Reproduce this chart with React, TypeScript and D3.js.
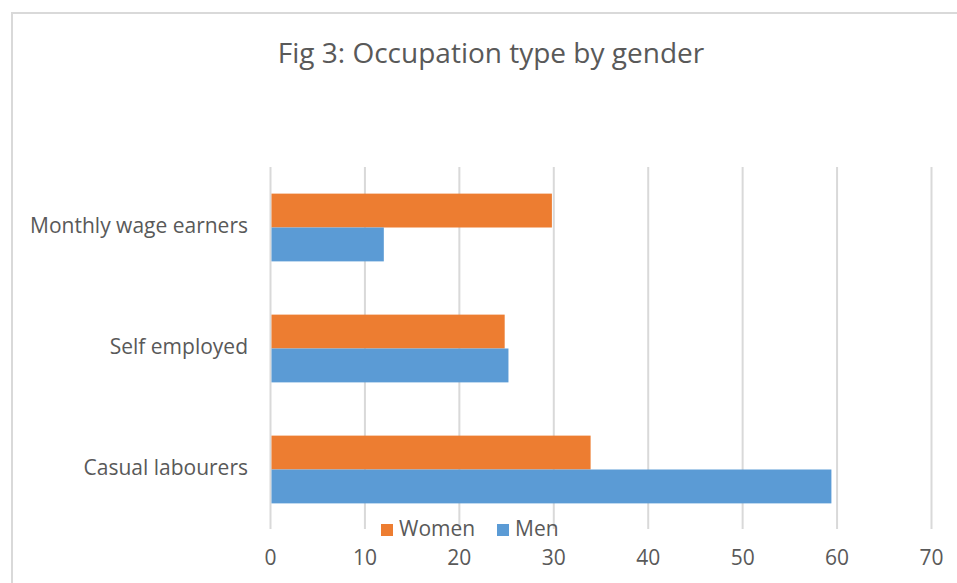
import React from "react";
import * as d3 from "d3";

const categories = ["Monthly wage earners", "Self employed", "Casual labourers"];
const seriesNames = ["Women", "Men"];
const women = [29.8, 24.8, 33.9];
const men = [12.0, 25.2, 59.4];
const ticks = [0, 10, 20, 30, 40, 50, 60, 70];
const colors = ["#ED7D31", "#5B9BD5"];

const W = 957;
const H = 583;
const FONT = "'Open Sans', 'Noto Sans', sans-serif";

export default function App() {
  const x = d3.scaleLinear().domain([0, 70]).range([270.5, 931.5]);
  const y = d3.scaleBand().domain(categories).range([167, 530]).paddingInner(0.44).paddingOuter(0.22);
  const inner = d3.scaleBand().domain(seriesNames).range([0, y.bandwidth()]);
  const values = [women, men];

  return (
    <svg width={W} height={H} style={{ position: "absolute", left: 0, top: 0, background: "#fff" }}>
      <rect x={12} y={13} width={W + 20} height={H + 20} fill="#fff" stroke="#d9d9d9" strokeWidth={2} />
      <text x={491} y={56} textAnchor="middle" dominantBaseline="middle" fontFamily={FONT} fontSize={28} fill="#595959">
        Fig 3: Occupation type by gender
      </text>
      {ticks.map((t) => (
        <line key={t} x1={x(t)} x2={x(t)} y1={167} y2={529} stroke="#d9d9d9" strokeWidth={2} />
      ))}
      {categories.map((c, i) =>
        seriesNames.map((s, j) => (
          <rect
            key={c + s}
            x={x(0) + 1}
            y={(y(c) as number) + (inner(s) as number)}
            width={x(values[j][i]) - x(0) - 1}
            height={inner.bandwidth()}
            fill={colors[j]}
          />
        ))
      )}
      {categories.map((c) => (
        <text
          key={c}
          x={248}
          y={(y(c) as number) + y.bandwidth() / 2}
          textAnchor="end"
          dominantBaseline="middle"
          fontFamily={FONT}
          fontSize={21}
          fill="#595959"
        >
          {c}
        </text>
      ))}
      {ticks.map((t) => (
        <text key={t} x={x(t)} y={559} textAnchor="middle" dominantBaseline="middle" fontFamily={FONT} fontSize={21} fill="#595959">
          {t}
        </text>
      ))}
      <rect x={381} y={524} width={12} height={12} fill={colors[0]} />
      <text x={399} y={530} dominantBaseline="middle" fontFamily={FONT} fontSize={21} fill="#595959">Women</text>
      <rect x={497} y={524} width={12} height={12} fill={colors[1]} />
      <text x={515} y={530} dominantBaseline="middle" fontFamily={FONT} fontSize={21} fill="#595959">Men</text>
    </svg>
  );
}
